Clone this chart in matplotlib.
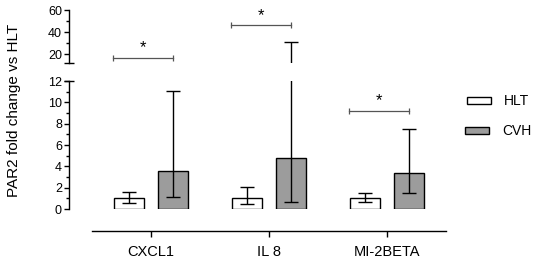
import matplotlib
matplotlib.use("Agg")
import matplotlib.pyplot as plt
from matplotlib.patches import Rectangle
import numpy as np

plt.rcParams['font.family'] = ['Liberation Sans', 'DejaVu Sans']

categories = ["CXCL1", "IL 8", "MI-2BETA"]
hlt_mean = [1.0, 1.0, 1.0]
hlt_low = [0.59, 0.5, 0.68]
hlt_high = [1.62, 2.08, 1.52]
cvh_mean = [3.52, 4.74, 3.39]
cvh_low = [1.12, 0.68, 1.52]
cvh_high = [11.05, 31.0, 7.48]
sig_y = [16.2, 46.0, 9.2]
sig_label = ["*", "*", "*"]
legend_labels = ["HLT", "CVH"]

W, H = 536, 261
DPI = 100
fig = plt.figure(figsize=(W / DPI, H / DPI), dpi=DPI)

def fr(x0, y0top, x1, y1top):
    return [x0 / W, 1 - y1top / H, (x1 - x0) / W, (y1top - y0top) / H]

ax_lo = fig.add_axes(fr(69, 81, 446, 209))
ax_hi = fig.add_axes(fr(69, 10, 446, 63))

BREAK = 12
x = np.arange(len(categories))
off = 0.185
bw = 0.252
hlt_color = "white"
cvh_color = "#9c9c9c"
lw = 1.0

series = [
    (x - off, hlt_mean, hlt_low, hlt_high, hlt_color),
    (x + off, cvh_mean, cvh_low, cvh_high, cvh_color),
]

for ax in (ax_lo, ax_hi):
    for xs, mean, low, high, col in series:
        ax.bar(xs, mean, width=bw, color=col, edgecolor="black", linewidth=lw, zorder=2)
        for i in range(len(categories)):
            if ax is ax_hi and high[i] <= BREAK:
                continue
            ax.errorbar([xs[i]], [mean[i]],
                        yerr=[[mean[i] - low[i]], [high[i] - mean[i]]],
                        fmt="none", ecolor="black", elinewidth=lw, capsize=5, capthick=lw, zorder=3)
    ax.set_xlim(-0.694, 2.5)
    ax.spines["top"].set_visible(False)
    ax.spines["right"].set_visible(False)
    ax.spines["left"].set_linewidth(lw)
    ax.tick_params(axis="y", which="major", length=3.6, width=lw, labelsize=9, pad=1.5)
    ax.tick_params(axis="y", which="minor", length=2.2, width=lw)

ax_lo.set_ylim(0, BREAK)
ax_hi.set_ylim(BREAK, 60)
ax_lo.set_yticks(np.arange(0, 13, 2))
ax_lo.set_yticks(np.arange(1, 12, 2), minor=True)
ax_hi.set_yticks([20, 40, 60])
ax_hi.set_yticks([30, 50], minor=True)

ax_hi.spines["bottom"].set_visible(False)
ax_hi.tick_params(axis="x", which="both", bottom=False, labelbottom=False)

ax_lo.spines["bottom"].set_position(("outward", 15.6))
ax_lo.spines["bottom"].set_bounds(-0.5, 2.5)
ax_lo.spines["bottom"].set_linewidth(lw)
ax_lo.set_xticks(x)
ax_lo.set_xticklabels(categories)
ax_lo.tick_params(axis="x", length=4.3, width=lw, labelsize=10.5, pad=6)

# break marks
xl = ax_lo.get_xlim()[0]
ax_lo.plot([xl], [BREAK], marker="_", markersize=7.5, mew=lw, color="black", clip_on=False, zorder=5)
ax_hi.plot([xl], [BREAK], marker="_", markersize=7.5, mew=lw, color="black", clip_on=False, zorder=5)

# significance brackets
for i in range(len(categories)):
    ax = ax_hi if sig_y[i] > BREAK else ax_lo
    x0, x1 = x[i] - 0.325, x[i] + 0.19
    ax.plot([x0, x1], [sig_y[i], sig_y[i]], color="#555555", lw=0.9,
            marker="|", markersize=4, mew=0.9, clip_on=False, zorder=4)
    ax.annotate(sig_label[i], ((x0 + x1) / 2, sig_y[i]), xytext=(0, 2),
                textcoords="offset points", ha="center", va="bottom", fontsize=12)

fig.text(14 / W, 1 - 110 / H, "PAR2 fold change vs HLT", rotation=90,
         ha="center", va="center", fontsize=11)

# legend
fig.patches.append(Rectangle((467 / W, 1 - 104 / H), 24 / W, 7 / H, transform=fig.transFigure,
                             facecolor=hlt_color, edgecolor="black", linewidth=lw))
fig.patches.append(Rectangle((465 / W, 1 - 134 / H), 24 / W, 7 / H, transform=fig.transFigure,
                             facecolor=cvh_color, edgecolor="black", linewidth=lw))
fig.text(504 / W, 1 - 100.7 / H, legend_labels[0], ha="left", va="center", fontsize=10)
fig.text(502 / W, 1 - 130.7 / H, legend_labels[1], ha="left", va="center", fontsize=10)

fig.savefig("out.png", dpi=DPI)
